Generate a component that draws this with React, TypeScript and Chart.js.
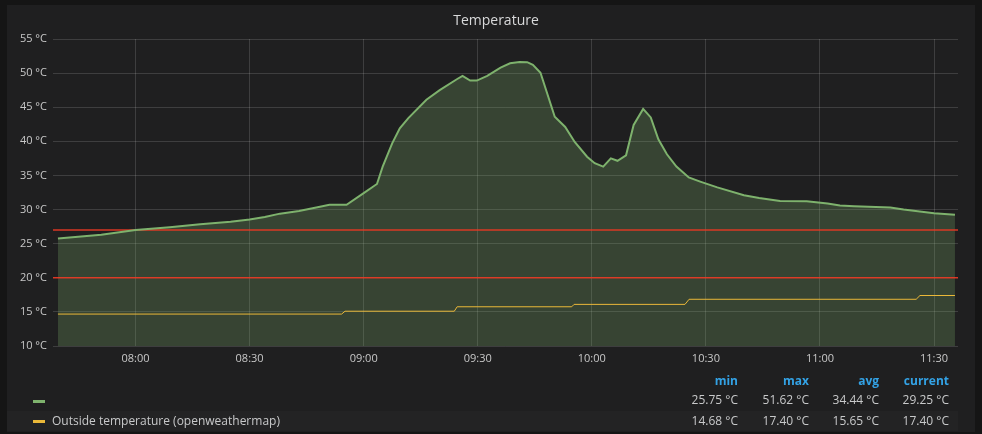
import React, { useEffect, useRef } from "react";
import { Chart, registerables } from "chart.js";

Chart.register(...registerables);

// ---- data ----
const insideTimes = [
  "07:39:36", "07:51", "08:00", "08:09", "08:17", "08:25", "08:30", "08:34", "08:38", "08:43",
  "08:48:30", "08:51", "08:55:30", "09:00", "09:03:30", "09:05", "09:07:30", "09:09:30", "09:11:45", "09:16:30",
  "09:20", "09:24:30", "09:26", "09:28", "09:29:45", "09:32:30", "09:36", "09:38:30", "09:41", "09:43",
  "09:44:30", "09:46:30", "09:50:15", "09:53", "09:55:30", "09:58:45", "10:00:45", "10:03", "10:05", "10:06:45",
  "10:09", "10:11", "10:13:30", "10:15:30", "10:17:30", "10:19:45", "10:22:15", "10:25:30", "10:28:30", "10:33",
  "10:40", "10:44", "10:49:30", "10:56:30", "11:02", "11:05:15", "11:09", "11:18:30", "11:22", "11:26:15",
  "11:30", "11:35:30",
];
const insideValues = [
  25.75, 26.3, 27.0, 27.4, 27.85, 28.2, 28.55, 28.9, 29.4, 29.8,
  30.4, 30.7, 30.7, 32.4, 33.75, 36.3, 39.7, 41.9, 43.4, 46.1,
  47.5, 49.1, 49.6, 48.9, 48.9, 49.6, 50.8, 51.45, 51.62, 51.6,
  51.2, 50.05, 43.6, 42.1, 39.9, 37.75, 36.8, 36.3, 37.5, 37.15,
  37.95, 42.4, 44.75, 43.5, 40.3, 38.1, 36.3, 34.7, 34.1, 33.25,
  32.1, 31.7, 31.25, 31.2, 30.9, 30.6, 30.5, 30.3, 30.0, 29.7,
  29.45, 29.25,
];
const outsideTimes = [
  "07:39:36", "08:54:12", "08:55:06", "09:23:50", "09:24:35", "09:54:43",
  "09:55:20", "10:24:30", "10:25:35", "11:25:18", "11:26:18", "11:35:30",
];
const outsideValues = [
  14.68, 14.68, 15.1, 15.1, 15.75, 15.75,
  16.1, 16.1, 16.85, 16.85, 17.4, 17.4,
];
const thresholdValues = [27, 20];
const xTickTimes = ["08:00", "08:30", "09:00", "09:30", "10:00", "10:30", "11:00", "11:30"];
const axisStart = "07:38:18";
const axisEnd = "11:36:18";
const yMin = 10;
const yMax = 55;
const yStep = 5;
const unit = "°C";

const panelTitle = "Temperature";
const statHeaders = ["min", "max", "avg", "current"];
const seriesNames = ["", "Outside temperature (openweathermap)"];
const insideStats = ["25.75 °C", "51.62 °C", "34.44 °C", "29.25 °C"];
const outsideStats = ["14.68 °C", "17.40 °C", "15.65 °C", "17.40 °C"];

// ---- helpers ----
const toMin = (t: string) => {
  const p = t.split(":").map(Number);
  return p[0] * 60 + p[1] + (p[2] || 0) / 60;
};

const GREEN = "#7eb26d";
const YELLOW = "#eab839";
const FONT = "'Open Sans', 'Noto Sans', sans-serif";

export default function App() {
  const ref = useRef<HTMLCanvasElement | null>(null);

  useEffect(() => {
    if (!ref.current) return;
    const xMin = toMin(axisStart);
    const xMax = toMin(axisEnd);
    const chart = new Chart(ref.current, {
      type: "line",
      data: {
        datasets: [
          {
            label: "inside",
            data: insideTimes.map((t, i) => ({ x: toMin(t), y: insideValues[i] })),
            borderColor: GREEN,
            borderWidth: 2,
            backgroundColor: "rgba(126,178,109,0.25)",
            fill: "start",
            pointRadius: 0,
            tension: 0,
          },
          {
            label: seriesNames[1],
            data: outsideTimes.map((t, i) => ({ x: toMin(t), y: outsideValues[i] })),
            borderColor: YELLOW,
            borderWidth: 1,
            fill: false,
            pointRadius: 0,
            tension: 0,
          },
          ...thresholdValues.map((v) => ({
            label: "threshold " + v,
            data: [
              { x: xMin, y: v },
              { x: xMax, y: v },
            ],
            borderColor: "rgba(237,56,36,0.9)",
            borderWidth: 1.5,
            fill: false,
            pointRadius: 0,
          })),
        ],
      },
      options: {
        animation: false,
        responsive: false,
        devicePixelRatio: 1,
        layout: { padding: { left: 0, top: 39, right: 24, bottom: 68 } },
        plugins: {
          legend: { display: false },
          tooltip: { enabled: false },
          filler: { drawTime: "beforeDatasetsDraw" },
        },
        scales: {
          x: {
            type: "linear",
            min: xMin,
            max: xMax,
            afterBuildTicks: (s: any) => {
              s.ticks = xTickTimes.map((t) => ({ value: toMin(t) }));
            },
            afterFit: (s: any) => {
              s.height = 20;
            },
            ticks: {
              autoSkip: false,
              maxRotation: 0,
              padding: 6,
              color: "#c8c8c8",
              font: { family: FONT, size: 11 },
              callback: (_v: any, i: number) => xTickTimes[i],
            },
            grid: { color: "rgba(255,255,255,0.14)", drawTicks: false },
            border: { display: false },
          },
          y: {
            min: yMin,
            max: yMax,
            afterFit: (s: any) => {
              s.width = 53;
            },
            ticks: {
              stepSize: yStep,
              padding: 6,
              color: "#c8c8c8",
              font: { family: FONT, size: 11 },
              callback: (v: any) => `${v} ${unit}`,
            },
            grid: { color: "rgba(255,255,255,0.14)", drawTicks: false },
            border: { display: false },
          },
        },
      },
    } as any);
    return () => chart.destroy();
  }, []);

  const colRight = [738, 809, 879, 949];
  const cell = (text: string, right: number, top: number, style: React.CSSProperties, key: string) => (
    <div
      key={key}
      style={{
        position: "absolute",
        right: 982 - right,
        top,
        lineHeight: "16px",
        whiteSpace: "nowrap",
        ...style,
      }}
    >
      {text}
    </div>
  );
  const valStyle: React.CSSProperties = { fontSize: 12, color: "#c8c9ca" };

  return (
    <div
      style={{
        position: "fixed",
        left: 0,
        top: 0,
        width: 982,
        height: 434,
        background: "#151515",
        overflow: "hidden",
        fontFamily: FONT,
      }}
    >
      <div
        style={{
          position: "absolute",
          left: 7,
          top: 5,
          width: 968,
          height: 427,
          background: "#1f1f20",
        }}
      />
      <div
        style={{
          position: "absolute",
          left: 7,
          top: 411,
          width: 951,
          height: 20,
          background: "#232324",
        }}
      />
      <canvas
        ref={ref}
        width={982}
        height={434}
        style={{ position: "absolute", left: 0, top: 0, width: 982, height: 434 }}
      />
      <div
        style={{
          position: "absolute",
          left: 396,
          top: 10,
          width: 200,
          textAlign: "center",
          fontSize: 14,
          fontWeight: 500,
          color: "#d8d9da",
          lineHeight: "20px",
        }}
      >
        {panelTitle}
      </div>
      {statHeaders.map((h, i) =>
        cell(h, colRight[i], 373, { fontSize: 12, fontWeight: 700, color: "#33a2e5" }, "h" + i)
      )}
      {insideStats.map((v, i) => cell(v, colRight[i], 392, valStyle, "a" + i))}
      {outsideStats.map((v, i) => cell(v, colRight[i], 413, valStyle, "b" + i))}
      <div style={{ position: "absolute", left: 33, top: 400, width: 12, height: 3, background: GREEN }} />
      <div style={{ position: "absolute", left: 33, top: 420, width: 12, height: 3, background: YELLOW }} />
      <div style={{ position: "absolute", left: 52, top: 392, lineHeight: "16px", ...valStyle }}>{seriesNames[0]}</div>
      <div style={{ position: "absolute", left: 52, top: 413, lineHeight: "16px", whiteSpace: "nowrap", ...valStyle }}>
        {seriesNames[1]}
      </div>
    </div>
  );
}
